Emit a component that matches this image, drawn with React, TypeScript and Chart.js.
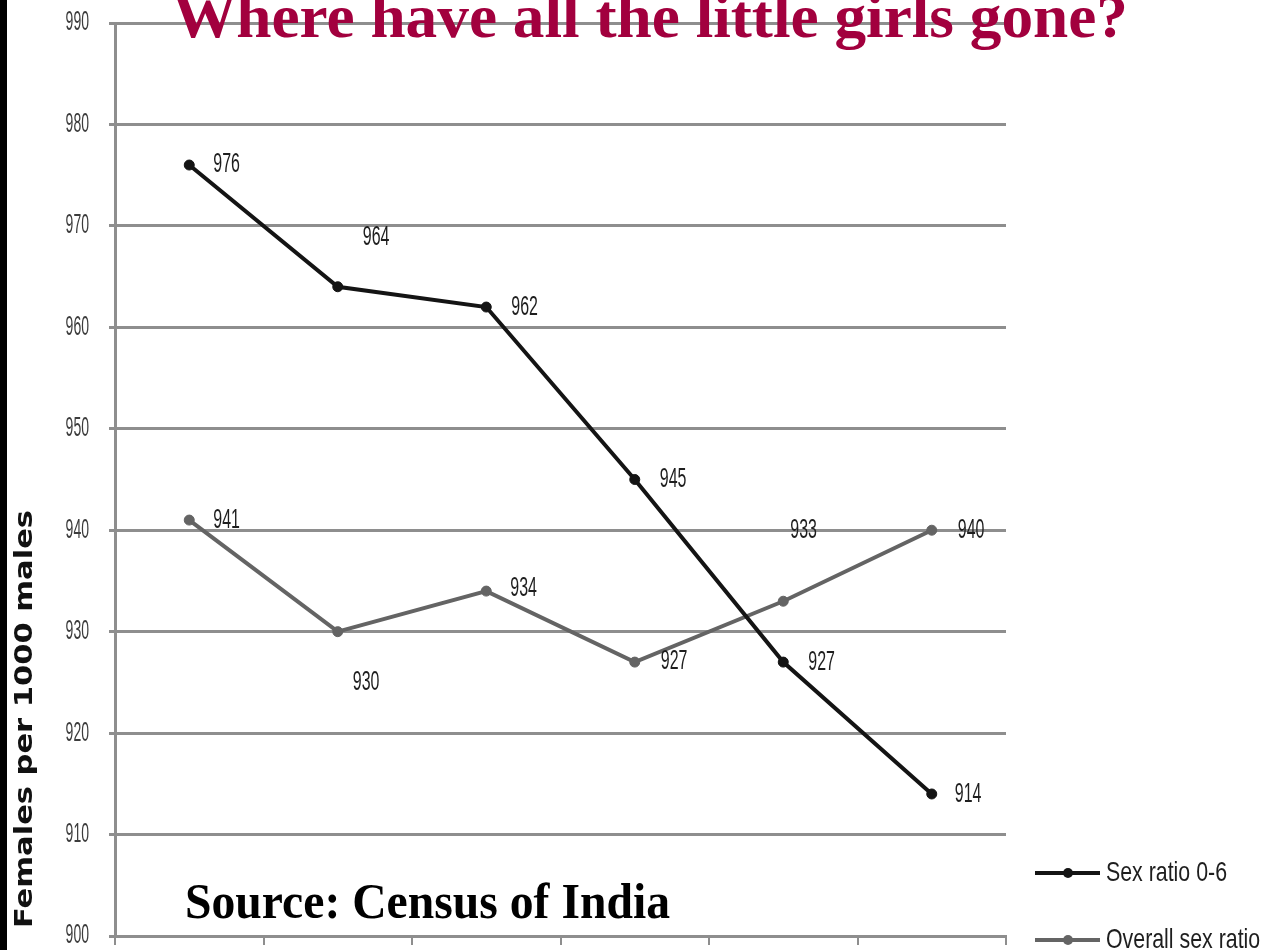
import React, { useEffect, useRef } from 'react';
import { Chart, registerables } from 'chart.js';

Chart.register(...registerables);

// Census years (x categories)
const CENSUS_YEARS = ['1961', '1971', '1981', '1991', '2001', '2011'];
// Girls per 1000 boys, age group 0-6
const CHILD_SEX_RATIO = [976, 964, 962, 945, 927, 914];
// Females per 1000 males, all ages
const OVERALL_SEX_RATIO = [941, 930, 934, 927, 933, 940];

const SERIES_NAMES = ['Sex ratio 0-6', 'Overall sex ratio'];
const Y_MIN = 900;
const Y_MAX = 990;
const Y_STEP = 10;

const TITLE_TEXT = 'Where have all the little girls gone?';
const SOURCE_TEXT = 'Source: Census of India';
const Y_TITLE_TEXT = 'Females per 1000 males';

// Value label placement relative to each point: [dx to label's left edge, dy to label centre]
const CHILD_LABEL_OFFSETS: [number, number][] = [[24, -1], [25, -49], [25, 0], [25, 0], [25, 0], [23, 0]];
const OVERALL_LABEL_OFFSETS: [number, number][] = [[24, 0], [15, 51], [24, -3], [26, -1], [7, -71], [26, 0]];

const BLACK = '#141414';
const GREY_LINE = '#646464';
const GRID = '#8e8e8e';
const TITLE_COLOR = '#a2003e';
const NARROW = 'Liberation Sans, Arial, sans-serif';
const SERIF = 'Liberation Serif, Times New Roman, serif';

function drawScaled(
  ctx: CanvasRenderingContext2D,
  text: string,
  x: number,
  y: number,
  font: string,
  color: string,
  sx: number,
  align: CanvasTextAlign,
  baseline: CanvasTextBaseline
) {
  ctx.save();
  ctx.font = font;
  ctx.fillStyle = color;
  ctx.textAlign = align;
  ctx.textBaseline = baseline;
  ctx.translate(x, y);
  ctx.scale(sx, 1);
  ctx.fillText(text, 0, 0);
  ctx.restore();
}

function widthScale(ctx: CanvasRenderingContext2D, text: string, font: string, target: number) {
  ctx.save();
  ctx.font = font;
  const w = ctx.measureText(text).width;
  ctx.restore();
  return target / w;
}

const decorations = {
  id: 'decorations',
  beforeDraw(chart: any) {
    const { ctx, width, height } = chart;
    ctx.save();
    ctx.fillStyle = '#ffffff';
    ctx.fillRect(0, 0, width, height);
    ctx.fillStyle = '#000000';
    ctx.fillRect(0, 0, 7, height);
    ctx.restore();
  },
  afterDraw(chart: any) {
    const { ctx } = chart;
    const yScale = chart.scales.y;
    const area = chart.chartArea;

    // y tick labels (narrow digits, right aligned)
    const tickFont = `27px ${NARROW}`;
    yScale.ticks.forEach((t: any) => {
      const py = yScale.getPixelForValue(t.value);
      drawScaled(ctx, String(t.value), area.left - 26, py, tickFont, '#3c3c3c', 0.52, 'right', 'middle');
    });

    // rotated y-axis title
    const yTitleFont = `bold 25px DejaVu Sans, sans-serif`;
    const ySx = widthScale(ctx, Y_TITLE_TEXT, yTitleFont, 418);
    ctx.save();
    ctx.translate(32, 719);
    ctx.rotate(-Math.PI / 2);
    ctx.scale(ySx, 1);
    ctx.font = yTitleFont;
    ctx.fillStyle = '#111111';
    ctx.textAlign = 'center';
    ctx.textBaseline = 'alphabetic';
    ctx.fillText(Y_TITLE_TEXT, 0, 0);
    ctx.restore();

    // value labels
    const labelFont = `28px ${NARROW}`;
    const sets: [number, [number, number][]][] = [
      [0, CHILD_LABEL_OFFSETS],
      [1, OVERALL_LABEL_OFFSETS],
    ];
    sets.forEach(([di, offsets]) => {
      const meta = chart.getDatasetMeta(di);
      const values = chart.data.datasets[di].data as number[];
      meta.data.forEach((pt: any, i: number) => {
        const [dx, dy] = offsets[i];
        drawScaled(ctx, String(values[i]), pt.x + dx, pt.y + dy, labelFont, '#1e1e1e', 0.57, 'left', 'middle');
      });
    });

    // title
    const titleFont = `bold 62px ${SERIF}`;
    const tSx = widthScale(ctx, TITLE_TEXT, titleFont, 955);
    drawScaled(ctx, TITLE_TEXT, 173, 37, titleFont, TITLE_COLOR, tSx, 'left', 'alphabetic');

    // source note
    const srcFont = `bold 50px ${SERIF}`;
    const sSx = widthScale(ctx, SOURCE_TEXT, srcFont, 485);
    drawScaled(ctx, SOURCE_TEXT, 185, 918, srcFont, '#000000', sSx, 'left', 'alphabetic');

    // legend
    const legFont = `28px ${NARROW}`;
    const lSx = widthScale(ctx, SERIES_NAMES[0], legFont, 121);
    const rows: [string, string, number][] = [
      [SERIES_NAMES[0], BLACK, 873],
      [SERIES_NAMES[1], GREY_LINE, 940],
    ];
    rows.forEach(([name, color, ly]) => {
      ctx.save();
      ctx.strokeStyle = color;
      ctx.lineWidth = 4;
      ctx.beginPath();
      ctx.moveTo(1035, ly);
      ctx.lineTo(1100, ly);
      ctx.stroke();
      ctx.fillStyle = color;
      ctx.beginPath();
      ctx.arc(1068, ly, 5, 0, Math.PI * 2);
      ctx.fill();
      ctx.restore();
      drawScaled(ctx, name, 1106, ly, legFont, '#1e1e1e', lSx, 'left', 'middle');
    });
  },
};

export default function App() {
  const canvasRef = useRef<HTMLCanvasElement | null>(null);

  useEffect(() => {
    if (!canvasRef.current) return;
    const chart = new Chart(canvasRef.current, {
      type: 'line',
      data: {
        labels: CENSUS_YEARS,
        datasets: [
          {
            label: SERIES_NAMES[0],
            data: CHILD_SEX_RATIO,
            borderColor: BLACK,
            backgroundColor: BLACK,
            borderWidth: 4,
            pointRadius: 5,
            pointBorderWidth: 1,
            pointBackgroundColor: BLACK,
            pointBorderColor: BLACK,
            tension: 0,
            order: 1,
          },
          {
            label: SERIES_NAMES[1],
            data: OVERALL_SEX_RATIO,
            borderColor: GREY_LINE,
            backgroundColor: GREY_LINE,
            borderWidth: 4,
            pointRadius: 5,
            pointBorderWidth: 1,
            pointBackgroundColor: GREY_LINE,
            pointBorderColor: GREY_LINE,
            tension: 0,
            order: 2,
          },
        ],
      },
      options: {
        responsive: false,
        animation: false,
        events: [],
        layout: { padding: { top: 23, right: 257, left: 0, bottom: 0 } },
        plugins: {
          legend: { display: false },
          title: { display: false },
          tooltip: { enabled: false },
        },
        scales: {
          x: {
            offset: true,
            ticks: { display: false },
            grid: {
              offset: true,
              drawOnChartArea: false,
              drawTicks: true,
              tickLength: 9,
              color: GRID,
              lineWidth: 2,
            },
            border: { display: true, color: GRID, width: 3 },
            afterFit: (s: any) => {
              s.height = 14;
            },
          },
          y: {
            min: Y_MIN,
            max: Y_MAX,
            ticks: { stepSize: Y_STEP, display: false },
            grid: { color: GRID, lineWidth: 3, drawTicks: true, tickLength: 6 },
            border: { display: true, color: GRID, width: 3 },
            afterFit: (s: any) => {
              s.width = 115;
            },
          },
        },
      },
      plugins: [decorations],
    });
    return () => chart.destroy();
  }, []);

  return (
    <div style={{ position: 'absolute', left: 0, top: 0, width: 1263, height: 950, background: '#fff' }}>
      <canvas ref={canvasRef} width={1263} height={950} style={{ display: 'block' }} />
    </div>
  );
}
